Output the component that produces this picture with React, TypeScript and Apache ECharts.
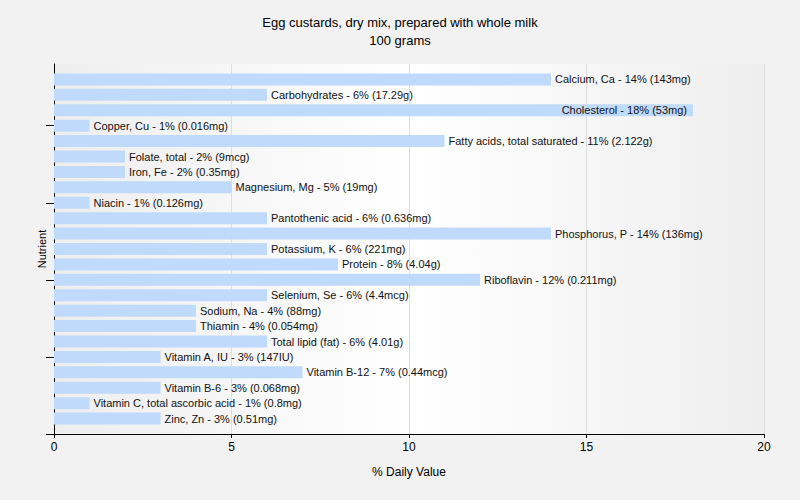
import React, { useEffect, useRef } from "react";
import * as echarts from "echarts";

const titleLines = ["Egg custards, dry mix, prepared with whole milk", "100 grams"];
const categories = [
  "Calcium, Ca",
  "Carbohydrates",
  "Cholesterol",
  "Copper, Cu",
  "Fatty acids, total saturated",
  "Folate, total",
  "Iron, Fe",
  "Magnesium, Mg",
  "Niacin",
  "Pantothenic acid",
  "Phosphorus, P",
  "Potassium, K",
  "Protein",
  "Riboflavin",
  "Selenium, Se",
  "Sodium, Na",
  "Thiamin",
  "Total lipid (fat)",
  "Vitamin A, IU",
  "Vitamin B-12",
  "Vitamin B-6",
  "Vitamin C, total ascorbic acid",
  "Zinc, Zn",
];
const values = [14, 6, 18, 1, 11, 2, 2, 5, 1, 6, 14, 6, 8, 12, 6, 4, 4, 6, 3, 7, 3, 1, 3];
const amounts = [
  "143mg", "17.29g", "53mg", "0.016mg", "2.122g", "9mcg", "0.35mg", "19mg", "0.126mg",
  "0.636mg", "136mg", "221mg", "4.04g", "0.211mg", "4.4mcg", "88mg", "0.054mg", "4.01g",
  "147IU", "0.44mcg", "0.068mg", "0.8mg", "0.51mg",
];
const xTicks = { min: 0, max: 20, interval: 5 };

export default function App() {
  const ref = useRef<HTMLDivElement>(null);
  useEffect(() => {
    if (!ref.current) return;
    const chart = echarts.init(ref.current, null, { renderer: "svg" });
    const axisData = ["", ...categories, ""];
    const barData: any[] = [null];
    values.forEach((v, i) => {
      const inside = v > xTicks.max * 0.8;
      barData.push({
        value: v,
        label: {
          position: inside ? "insideRight" : "right",
          distance: inside ? 6 : 4,
          formatter: `${categories[i]} - ${v}% (${amounts[i]})`,
        },
      });
    });
    barData.push(null);
    chart.setOption({
      animation: false,
      backgroundColor: "#f2f2f2",
      textStyle: { fontFamily: "Liberation Sans" },
      title: {
        text: titleLines.join("\n"),
        left: "center",
        top: 8,
        textStyle: { fontSize: 13, fontWeight: "normal", color: "#000", lineHeight: 18, fontFamily: "Liberation Sans" },
      },
      grid: {
        left: 54,
        right: 36,
        top: 64,
        bottom: 66,
        show: true,
        borderWidth: 0,
        backgroundColor: new echarts.graphic.LinearGradient(0, 0, 1, 0, [
          { offset: 0, color: "#eeeeee" },
          { offset: 0.5, color: "#ffffff" },
          { offset: 1, color: "#eeeeee" },
        ]),
      },
      xAxis: {
        type: "value",
        min: xTicks.min,
        max: xTicks.max,
        interval: xTicks.interval,
        name: "% Daily Value",
        nameLocation: "middle",
        nameGap: 32,
        nameTextStyle: { fontSize: 12, color: "#000" },
        axisLine: { show: true, lineStyle: { color: "#000", width: 1 } },
        axisTick: { show: true, length: 4, lineStyle: { color: "#000" } },
        axisLabel: { fontSize: 12, color: "#000", margin: 7 },
        splitLine: { show: true, lineStyle: { color: "#dedede", width: 1 } },
      },
      yAxis: {
        type: "category",
        inverse: true,
        boundaryGap: false,
        data: axisData,
        name: "Nutrient",
        nameLocation: "middle",
        nameGap: 7,
        nameTextStyle: { fontSize: 11, color: "#000" },
        axisLine: { show: true, lineStyle: { color: "#000", width: 1 } },
        axisTick: {
          show: true,
          length: 8,
          interval: (index: number) => index % 5 === 4,
          lineStyle: { color: "#000" },
        },
        axisLabel: { show: false },
        splitLine: { show: false },
      },
      series: [
        {
          type: "bar",
          data: barData,
          barWidth: 12,
          itemStyle: { color: "#c0dafb" },
          label: { show: true, fontSize: 11, color: "#111", fontFamily: "Liberation Sans" },
        },
      ],
    });
    return () => chart.dispose();
  }, []);
  return (
    <div
      ref={ref}
      style={{ position: "fixed", left: 0, top: 0, width: 800, height: 500, background: "#f2f2f2" }}
    />
  );
}
